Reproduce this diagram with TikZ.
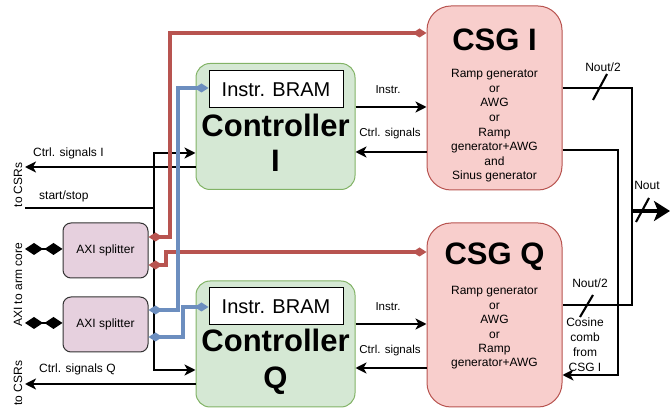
\documentclass[tikz,border=0pt]{standalone}
\usepackage{fontspec}
\setmainfont{Liberation Sans}
\usetikzlibrary{arrows.meta}
\definecolor{gfill}{HTML}{D5E8D4}
\definecolor{gdraw}{HTML}{82B366}
\definecolor{rfill}{HTML}{F8CECC}
\definecolor{rdraw}{HTML}{B85450}
\definecolor{pfill}{HTML}{E6D0DE}
\definecolor{bdraw}{HTML}{6C8EBF}
\tikzset{
  ctrlbox/.style={draw=gdraw,fill=gfill,line width=1pt,rounded corners=14pt,minimum width=159pt,minimum height=126pt,inner sep=0pt},
  csgbox/.style={draw=rdraw,fill=rfill,line width=1pt,rounded corners=24pt,minimum width=135pt,minimum height=184pt,inner sep=0pt},
  splitbox/.style={draw=black!80,fill=pfill,line width=1pt,rounded corners=8pt,minimum width=85pt,minimum height=55pt,inner sep=0pt,font=\fontsize{12}{14}\selectfont},
  brambox/.style={draw=black,fill=white,line width=1pt,minimum width=134pt,minimum height=37pt,inner sep=0pt,font=\fontsize{20}{24}\selectfont},
  blk/.style={draw=black,line width=2.1pt},
  arr/.style={blk,-{Stealth[length=11pt,width=11pt,inset=3pt]}},
  redl/.style={draw=rdraw,line width=3.1pt,{Diamond[length=14pt,width=9pt]}-{Diamond[length=14pt,width=9pt]}},
  bluel/.style={draw=bdraw,line width=3.1pt,{Diamond[length=14pt,width=9pt]}-{Diamond[length=14pt,width=9pt]}},
  lbl/.style={inner sep=0pt,font=\fontsize{12}{14}\selectfont},
  slbl/.style={inner sep=0pt,font=\fontsize{11.5}{14}\selectfont},
  big/.style={inner sep=0pt,align=center,font=\fontsize{31}{35}\selectfont\bfseries},
}
\begin{document}
\begin{tikzpicture}[x=1pt,y=-1pt]
\useasboundingbox (0,0) rectangle (670,411);
% boxes
\node[ctrlbox] (ci) at (275.5,126.5) {};
\node[ctrlbox] (cq) at (275.5,344) {};
\node[csgbox] (gi) at (494.5,98) {};
\node[csgbox] (gq) at (494.5,315) {};
\node[splitbox] (s1) at (105.5,250.5) {AXI splitter};
\node[splitbox] (s2) at (105.5,324.5) {AXI splitter};
\node[brambox] (bi) at (276,89.5) {Instr. BRAM};
\node[brambox] (bq) at (276,306.5) {Instr. BRAM};
% box texts
\node[big,font=\fontsize{31}{35.5}\selectfont\bfseries] (ciT) at (275.5,143) {Controller\\I};
\node[big,font=\fontsize{31}{37}\selectfont\bfseries] (cqT) at (275.5,362) {Controller\\Q};
\node[big] (giT) at (494.5,40) {CSG I};
\node[big] (gqT) at (494.5,257) {CSG Q};
\node[lbl,align=center,font=\fontsize{12}{14.6}\selectfont] (giB) at (494.5,126) {Ramp generator\\or\\AWG\\or\\Ramp\\generator+AWG\\and\\Sinus generator};
\node[lbl,align=center,font=\fontsize{12}{14.4}\selectfont] (gqB) at (494.5,328) {Ramp generator\\or\\AWG\\or\\Ramp\\generator+AWG};
% left texts
\node[lbl,rotate=90] (csr1) at (18,185) {to CSRs};
\node[lbl,rotate=90] (axi) at (18,285) {AXI to arm core};
\node[lbl,rotate=90] (csr2) at (18,383) {to CSRs};
\node[lbl,anchor=west] (lci) at (33,153) {Ctrl. signals I};
\node[lbl,anchor=west] (lss) at (39,196) {start/stop};
\node[lbl,anchor=west] (lcq) at (39,369) {Ctrl. signals Q};
% middle labels
\node[slbl] (li1) at (388,90) {Instr.};
\node[slbl] (lc1) at (390,134) {Ctrl. signals};
\node[slbl] (li2) at (388,307) {Instr.};
\node[slbl] (lc2) at (390,351) {Ctrl. signals};
% right labels
\node[lbl] (n2a) at (603,67) {Nout/2};
\node[lbl] (nout) at (647,185) {Nout};
\node[lbl] (n2b) at (590,283) {Nout/2};
\node[lbl,align=center,font=\fontsize{12}{15}\selectfont] (cos) at (585,345) {Cosine\\comb\\from\\CSG I};
% coordinates
\coordinate (bus) at (154,208);
\coordinate (ssL) at (25,208);
\coordinate (csrIe) at (25,167);
\coordinate (csrQe) at (25,384);
\coordinate (axi1) at (25,249);
\coordinate (axi2) at (25,323);
\coordinate (noutE) at (670,211);
% black bus
\draw[blk] (ssL) -- (bus);
\draw[arr] (bus) -- (154,153) -- (ci.west |- 0,153);
\draw[arr] (bus) -- (154,370) -- (cq.west |- 0,370);
\draw[arr] (ci.west |- 0,167) -- (csrIe);
\draw[arr] (cq.west |- 0,384) -- (csrQe);
% AXI double diamonds
\draw[blk,{Diamond[length=18pt,width=12pt]}-{Diamond[length=18pt,width=12pt]}] (axi1) -- (s1.west |- axi1);
\draw[blk,{Diamond[length=18pt,width=12pt]}-{Diamond[length=18pt,width=12pt]}] (axi2) -- (s2.west |- axi2);
% controller <-> CSG
\draw[arr] (ci.east |- 0,107) -- (gi.west |- 0,107);
\draw[arr] (gi.west |- 0,152) -- (ci.east |- 0,152);
\draw[arr] (cq.east |- 0,324) -- (gq.west |- 0,324);
\draw[arr] (gq.west |- 0,368) -- (cq.east |- 0,368);
% red and blue
\draw[redl] (s1.east |- 0,237) -- (170,237) -- (170,33) -- (gi.west |- 0,33);
\draw[redl] (s1.east |- 0,265) -- (166,265) -- (166,252) -- (gq.west |- 0,252);
\draw[bluel] (s2.east |- 0,310) -- (178,310) -- (178,88) -- (bi.west |- 0,88);
\draw[bluel] (s2.east |- 0,337) -- (183,337) -- (183,307) -- (bq.west |- 0,307);
% right side
\draw[blk] (gi.east |- 0,88) -- (632,88) -- (632,305) -- (gq.east |- 0,305);
\draw[arr] (gi.east |- 0,150) -- (618,150) -- (618,375) -- (gq.east |- 0,375);
\draw[draw=black,line width=4pt,-{Stealth[length=16pt,width=20pt,inset=4pt]}] (632,211) -- (noutE);
\draw[blk] (593,100) -- (607,74);
\draw[blk] (636,222) -- (649,198);
\draw[blk] (580,317) -- (593,295);
\end{tikzpicture}
\end{document}
